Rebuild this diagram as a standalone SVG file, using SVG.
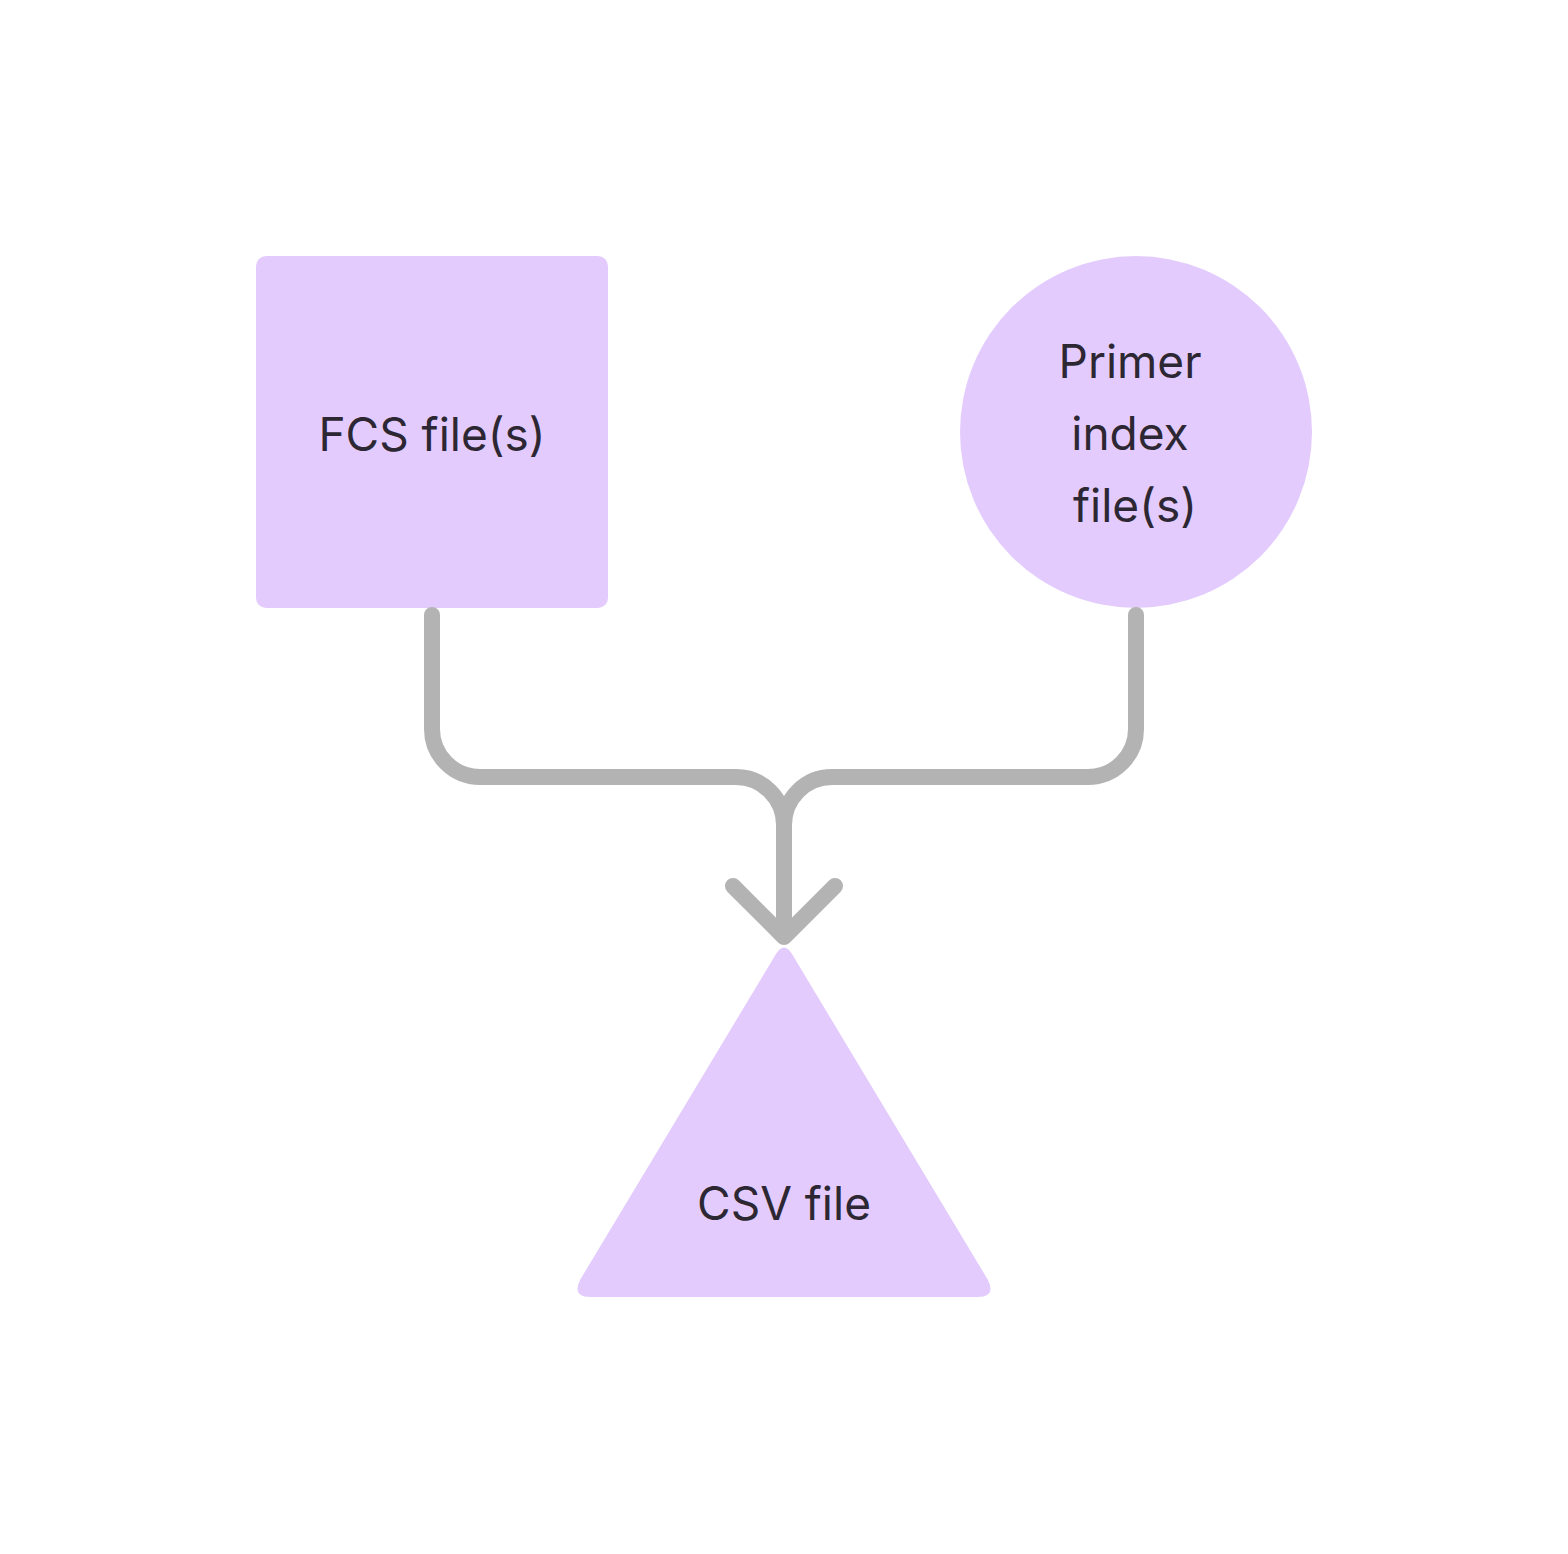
<svg xmlns="http://www.w3.org/2000/svg" width="1568" height="1554" viewBox="0 0 1568 1554">
<style>
.node{fill:#E3CCFD;}
.lbl{font-family:Inter,"Noto Sans",sans-serif;font-size:46px;fill:#2D2733;text-anchor:middle;}
.edge{fill:none;stroke:#B3B3B3;stroke-width:16;stroke-linecap:round;stroke-linejoin:round;}
</style>
<rect width="1568" height="1554" fill="#FFFFFF"/>
<g id="fcs">
<rect class="node" x="256" y="256" width="352" height="352" rx="10"/>
<text class="lbl" x="432" y="451">FCS file(s)</text>
</g>
<g id="primer">
<circle class="node" cx="1136" cy="432" r="176"/>
<text class="lbl" x="1130" y="378">Primer</text>
<text class="lbl" x="1130" y="450">index</text>
<text class="lbl" x="1135" y="522">file(s)</text>
</g>
<g id="csv">
<path class="node" d="M776 954 Q784 941 792 954 L988 1280 Q996 1297 978 1297 L590 1297 Q572 1297 580 1280 Z"/>
<text class="lbl" x="784" y="1220">CSV file</text>
</g>
<g id="connectors">
<path class="edge" d="M432 615 L432 729 A48 48 0 0 0 480 777 L736 777 A48 48 0 0 1 784 825 L784 936"/>
<path class="edge" d="M1136 615 L1136 729 A48 48 0 0 1 1088 777 L832 777 A48 48 0 0 0 784 825"/>
<path class="edge" d="M733 886 L784 937 L835 886"/>
</g>
</svg>
